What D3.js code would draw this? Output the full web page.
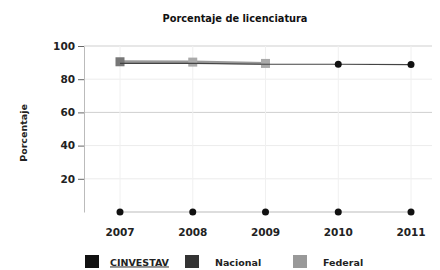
<!DOCTYPE html>
<html>
<head>
<meta charset="utf-8">
<script src="https://cdn.jsdelivr.net/npm/d3@7"></script>
<style>
  body { margin: 0; background: #fff; }
  text { font-family: "DejaVu Sans", Verdana, sans-serif; font-weight: bold; }
</style>
</head>
<body>
<div id="chart"></div>
<script>
// chart values
const years = ["2007", "2008", "2009", "2010", "2011"];
const cinvestav = [0, 0, 0, 0, 0];
const nacional = [89.5, 89.5, 89, 89, 88.8];
const federal = [90.5, 90.3, 89.5, null, null];
const yTicks = [20, 40, 60, 80, 100];
const seriesNames = ["CINVESTAV", "Nacional", "Federal"];
const seriesColors = ["#111111", "#333333", "#999999"];

const width = 440, height = 270;
const margin = { top: 46, right: 18, bottom: 58, left: 84 };

const svg = d3.select("#chart").append("svg")
  .attr("width", width)
  .attr("height", height);

const x = d3.scalePoint()
  .domain(years)
  .range([120, 411]);

const y = d3.scaleLinear()
  .domain([0, 100])
  .range([212, margin.top]);

// grid
svg.append("g")
  .selectAll("line")
  .data(yTicks)
  .join("line")
  .attr("x1", margin.left)
  .attr("x2", width - 8)
  .attr("y1", d => y(d))
  .attr("y2", d => y(d))
  .attr("stroke", d => (d === 100 || d === 60) ? "#cfcfcf" : "#ececec")
  .attr("stroke-width", 1);

svg.append("g")
  .selectAll("line")
  .data(years)
  .join("line")
  .attr("x1", d => x(d))
  .attr("x2", d => x(d))
  .attr("y1", margin.top)
  .attr("y2", 212)
  .attr("stroke", "#f0f0f0");

// y axis
const yAxis = svg.append("g")
  .attr("transform", `translate(${margin.left},0)`)
  .call(d3.axisLeft(y).tickValues(yTicks).tickSize(6).tickPadding(3).tickSizeOuter(0));
yAxis.select(".domain").attr("stroke", "#bbb");
yAxis.selectAll(".tick line").attr("stroke", "#666");
yAxis.selectAll("text")
  .attr("font-size", 10.5)
  .attr("font-family", null)
  .attr("fill", "#222");

// x axis labels
svg.append("g")
  .selectAll("text")
  .data(years)
  .join("text")
  .attr("x", d => x(d))
  .attr("y", 236)
  .attr("text-anchor", "middle")
  .attr("font-size", 10.5)
  .attr("fill", "#222")
  .text(d => d);

// title
svg.append("text")
  .attr("x", 235)
  .attr("y", 22)
  .attr("text-anchor", "middle")
  .attr("font-size", 9.8)
  .attr("fill", "#111")
  .text("Porcentaje de licenciatura");

// y label
svg.append("text")
  .attr("transform", "translate(27,133) rotate(-90)")
  .attr("text-anchor", "middle")
  .attr("font-size", 9.5)
  .attr("fill", "#222")
  .text("Porcentaje");

const line = d3.line()
  .defined(d => d.v !== null)
  .x(d => x(d.year))
  .y(d => y(d.v));

const toPts = arr => years.map((yr, i) => ({ year: yr, v: arr[i] }));

// CINVESTAV
svg.append("path")
  .attr("d", line(toPts(cinvestav)))
  .attr("fill", "none")
  .attr("stroke", "#bbb")
  .attr("stroke-width", 1);
svg.append("g")
  .selectAll("circle")
  .data(toPts(cinvestav))
  .join("circle")
  .attr("cx", d => x(d.year))
  .attr("cy", d => y(d.v))
  .attr("r", 3.5)
  .attr("fill", seriesColors[0]);

// Federal
svg.append("path")
  .attr("d", line(toPts(federal)))
  .attr("fill", "none")
  .attr("stroke", seriesColors[2])
  .attr("stroke-width", 3);
svg.append("g")
  .selectAll("rect")
  .data(toPts(federal).filter(d => d.v !== null))
  .join("rect")
  .attr("x", d => x(d.year) - 4.5)
  .attr("y", d => y(d.v) - 4.5)
  .attr("width", 9)
  .attr("height", 9)
  .attr("fill", (d, i) => i === 0 ? "#777" : "#aaa");

// Nacional
svg.append("path")
  .attr("d", line(toPts(nacional)))
  .attr("fill", "none")
  .attr("stroke", "#444")
  .attr("stroke-width", 1.2);
svg.append("g")
  .selectAll("circle")
  .data(toPts(nacional).slice(3))
  .join("circle")
  .attr("cx", d => x(d.year))
  .attr("cy", d => y(d.v))
  .attr("r", 3.5)
  .attr("fill", "#111");

// legend
const legendX = [85, 185, 293];
const legend = svg.append("g")
  .selectAll("g")
  .data(seriesNames)
  .join("g")
  .attr("transform", (d, i) => `translate(${legendX[i]},255)`);
legend.append("rect")
  .attr("width", 14)
  .attr("height", 13)
  .attr("fill", (d, i) => seriesColors[i]);
legend.append("text")
  .attr("x", (d, i) => i === 0 ? 25 : 30)
  .attr("y", 10.5)
  .attr("font-size", 9.5)
  .attr("fill", "#222")
  .attr("text-decoration", (d, i) => i === 0 ? "underline" : null)
  .text(d => d);
</script>
</body>
</html>
